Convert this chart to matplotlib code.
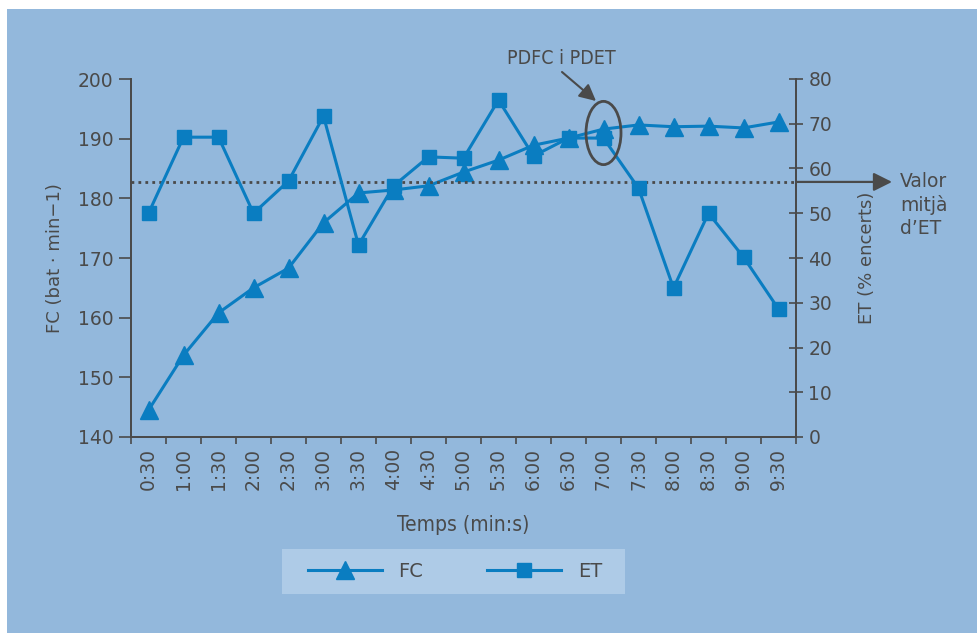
import matplotlib
matplotlib.use('Agg')
import matplotlib.pyplot as plt
import matplotlib.patches as mpatches
from matplotlib.lines import Line2D

plt.rcParams['font.family'] = ['DejaVu Sans']

# data
times = ['0:30', '1:00', '1:30', '2:00', '2:30', '3:00', '3:30', '4:00', '4:30', '5:00',
         '5:30', '6:00', '6:30', '7:00', '7:30', '8:00', '8:30', '9:00', '9:30']
fc = [144.5, 153.7, 160.8, 165.0, 168.3, 175.9, 180.9, 181.4, 182.1, 184.4,
      186.4, 188.9, 190.1, 191.6, 192.3, 192.0, 192.1, 191.8, 192.8]
et = [50.0, 67.0, 67.0, 50.0, 57.2, 71.7, 42.9, 56.1, 62.6, 62.3,
      75.3, 62.8, 66.8, 66.8, 55.6, 33.3, 50.0, 40.2, 28.6]
et_mean = 57.0
pdfc_idx = 13  # 7:00

bg = '#93B8DC'
blue = '#0A7DC1'
dark = '#4A4A4A'
W, H = 977, 633
narrow = dict(family='DejaVu Sans', stretch='condensed')

fig = plt.figure(figsize=(W / 100, H / 100), dpi=100)
fig.patch.set_facecolor('white')
fig.patches.append(mpatches.Rectangle((7 / W, 0), 1 - 7 / W, 1 - 9 / H, transform=fig.transFigure,
                                      facecolor=bg, edgecolor='none', zorder=-10))

ax = fig.add_axes([131 / W, 1 - 437 / H, (796 - 131) / W, (437 - 79) / H])
ax.set_facecolor('none')
ax2 = ax.twinx()

x = list(range(len(times)))
ax.plot(x, fc, color=blue, lw=2.2, marker='^', ms=13, zorder=3)
ax2.plot(x, et, color=blue, lw=2.2, marker='s', ms=10, zorder=3)
ax2.plot([-0.5, 18.5], [et_mean, et_mean], color=dark, lw=2, ls=(0, (1, 1.5)), zorder=2)

ax.set_xlim(-0.5, 18.5)
ax.set_ylim(140, 200)
ax2.set_ylim(0, 80)
ax.set_yticks(range(140, 201, 10))
ax2.set_yticks(range(0, 81, 10))
ax.set_xticks(x)
ax.set_xticklabels(times, rotation=90)
ax.set_xticks([i - 0.5 for i in range(len(times) + 1)], minor=True)

for a in (ax, ax2):
    for s in a.spines.values():
        s.set_color(dark)
        s.set_linewidth(1.3)
    a.spines['top'].set_visible(False)
ax.tick_params(axis='x', which='major', length=0, pad=8, labelsize=13.5, labelcolor=dark)
ax.tick_params(axis='x', which='minor', length=5, width=1.2, color=dark)
ax.tick_params(axis='y', direction='out', length=9, width=1.2, color=dark, labelsize=13.5, labelcolor=dark)
ax2.tick_params(axis='y', direction='inout', length=10, width=1.2, color=dark, labelsize=13.5,
                labelcolor=dark, pad=4)

ax.set_ylabel('FC (bat · min−1)', fontsize=13, color=dark)
ax.yaxis.set_label_coords(-0.101, 0.5)
ax2.set_ylabel('ET (% encerts)', fontsize=13, color=dark, rotation=90)
ax2.yaxis.set_label_coords(1.093, 0.5)
ax.set_xlabel('Temps (min:s)', fontsize=15, color=dark, **narrow)
ax.xaxis.set_label_coords(0.5, -0.218)

# mean arrow
ax2.annotate('', xy=(892 / W, et_mean), xytext=(796 / W, et_mean),
             xycoords=('figure fraction', 'data'), textcoords=('figure fraction', 'data'),
             arrowprops=dict(arrowstyle='-|>', color=dark, lw=1.6, mutation_scale=28, shrinkA=0, shrinkB=0),
             annotation_clip=False)
fig.text(900 / W, 1 - 172 / H, 'Valor\nmitjà\nd’ET', fontsize=13.5, color=dark, va='top', ha='left',
         linespacing=1.25)

# PDFC / PDET marker
ax2.add_patch(mpatches.Ellipse((pdfc_idx, 80 - (133 - 79) / 358 * 80), 1.0, 10.6 / 60 * 80,
                               fill=False, edgecolor=dark, lw=2, zorder=5, clip_on=False))
fig.text(561 / W, 1 - 58 / H, 'PDFC i PDET', fontsize=14, color=dark, ha='center', va='center', **narrow)
fig.patches.append(mpatches.FancyArrowPatch((562 / W, 1 - 72 / H), (596 / W, 1 - 101 / H),
                                            transform=fig.transFigure, arrowstyle='-|>', color=dark,
                                            lw=1.5, mutation_scale=25, shrinkA=0, shrinkB=0, zorder=5))

# legend
fig.patches.append(mpatches.Rectangle((282 / W, 1 - 594 / H), (625 - 282) / W, 45 / H,
                                      transform=fig.transFigure, facecolor='#AECBE7',
                                      edgecolor='none', zorder=-5))
handles = [Line2D([], [], color=blue, lw=2.2, marker='^', ms=13),
           Line2D([], [], color=blue, lw=2.2, marker='s', ms=10)]
leg = fig.legend(handles, ['FC', 'ET'], ncol=2, loc='center', frameon=False,
                 bbox_to_anchor=(455 / W, 1 - 571.5 / H), handlelength=3.8, handletextpad=0.85,
                 columnspacing=3.3, prop={'size': 14})
for t in leg.get_texts():
    t.set_color(dark)

fig.savefig('out.png', dpi=100, facecolor=fig.get_facecolor())
